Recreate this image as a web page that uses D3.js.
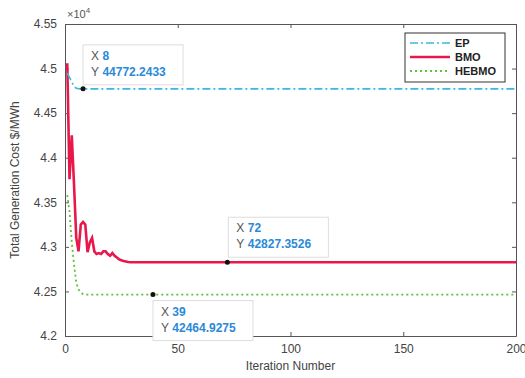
<!DOCTYPE html>
<html>
<head>
<meta charset="utf-8">
<script src="https://cdn.jsdelivr.net/npm/d3@7"></script>
<style>
  html, body { margin: 0; padding: 0; background: #fff; }
  svg { display: block; font-family: 'Liberation Sans', Arial, sans-serif; }
</style>
</head>
<body>
<div id="chart"></div>
<script>
// iteration data (only the transient part is listed, the rest stays at the final value)
const epHead = [44950, 44900, 44850, 44800, 44780, 44775, 44772.2433];
const bmoHead = [45060, 43760, 44250, 43700, 43100, 42950, 43250, 43280, 43250, 42940,
  43050, 43100, 42950, 42920, 42930, 42920, 42950, 42950, 42920, 42900,
  42930, 42900, 42880, 42860, 42850, 42840, 42835, 42830, 42828, 42827.3526];
const hebmoHead = [43580, 43400, 43050, 42800, 42600, 42520, 42490, 42470, 42464.9275];
const nIter = 200;

const seriesNames = ['EP', 'BMO', 'HEBMO'];
const seriesColors = ['#35bcd6', '#e8184c', '#5cc23c'];

const xTicks = [0, 50, 100, 150, 200];
const yTicks = [42000, 42500, 43000, 43500, 44000, 44500, 45000, 45500];

// data tips
const tips = [
  { x: 8, y: 44772.2433, label: ['X', '8', 'Y', '44772.2433'] },
  { x: 72, y: 42827.3526, label: ['X', '72', 'Y', '42827.3526'] },
  { x: 39, y: 42464.9275, label: ['X', '39', 'Y', '42464.9275'] }
];

function fill(head) {
  const out = [];
  for (let i = 1; i <= nIter; i++) {
    out.push({ x: i, y: i <= head.length ? head[i - 1] : head[head.length - 1] });
  }
  return out;
}
const series = [fill(epHead), fill(bmoHead), fill(hebmoHead)];

const width = 525, height = 378;
const margin = { left: 65, right: 9, top: 24, bottom: 42 };

const svg = d3.select('#chart').append('svg')
  .attr('width', width).attr('height', height);

const x = d3.scaleLinear().domain([0, 200]).range([margin.left, width - margin.right]);
const y = d3.scaleLinear().domain([42000, 45500]).range([height - margin.bottom, margin.top]);

const axisColor = '#555';

// axes (MATLAB style box with inward ticks)
const gx = svg.append('g').attr('transform', `translate(0,${y(42000)})`)
  .call(d3.axisBottom(x).tickValues(xTicks).tickSizeInner(-4).tickSizeOuter(0).tickPadding(8));
const gxTop = svg.append('g').attr('transform', `translate(0,${y(45500)})`)
  .call(d3.axisTop(x).tickValues(xTicks).tickSizeInner(-4).tickSizeOuter(0).tickFormat(''));
const gy = svg.append('g').attr('transform', `translate(${x(0)},0)`)
  .call(d3.axisLeft(y).tickValues(yTicks).tickSizeInner(-4).tickSizeOuter(0).tickPadding(8)
    .tickFormat(d => String(+(d / 1e4).toFixed(2))));
const gyRight = svg.append('g').attr('transform', `translate(${x(200)},0)`)
  .call(d3.axisRight(y).tickValues(yTicks).tickSizeInner(-4).tickSizeOuter(0).tickFormat(''));

[gx, gxTop, gy, gyRight].forEach(g => {
  g.selectAll('.domain').attr('stroke', axisColor).attr('stroke-width', 1);
  g.selectAll('.tick line').attr('stroke', axisColor);
  g.selectAll('text').attr('fill', '#444').attr('font-size', 12)
    .attr('font-family', "'Liberation Sans', Arial, sans-serif");
});

// exponent label
const expo = svg.append('text').attr('x', x(0) + 2).attr('y', y(45500) - 6)
  .attr('fill', '#555').attr('font-size', 11);
expo.append('tspan').text('\u00d710');
expo.append('tspan').text('4').attr('dy', -5).attr('font-size', 8);

// axis labels
svg.append('text')
  .attr('transform', `translate(19,${(y(42000) + y(45500)) / 2}) rotate(-90)`)
  .attr('text-anchor', 'middle').attr('fill', '#444').attr('font-size', 12)
  .text('Total Generation Cost $/MWh');
svg.append('text')
  .attr('x', (x(0) + x(200)) / 2).attr('y', 370)
  .attr('text-anchor', 'middle').attr('fill', '#444').attr('font-size', 12)
  .text('Iteration Number');

// lines
const line = d3.line().x(d => x(d.x)).y(d => y(d.y));
const dashes = ['8,3,2,3', null, '2,3'];
const widths = [1.6, 2.6, 1.8];
const plot = svg.append('g');
[1, 0, 2].forEach(i => {
  plot.append('path').datum(series[i])
    .attr('fill', 'none')
    .attr('stroke', seriesColors[i])
    .attr('stroke-width', widths[i])
    .attr('stroke-dasharray', dashes[i])
    .attr('stroke-linejoin', 'miter')
    .attr('d', line);
});

// legend
const leg = svg.append('g').attr('transform', 'translate(405,33)');
leg.append('rect').attr('width', 100).attr('height', 49)
  .attr('fill', '#fff').attr('stroke', '#333').attr('stroke-width', 1);
seriesNames.forEach((name, i) => {
  const ly = 10 + i * 14;
  leg.append('line').attr('x1', 5).attr('x2', 45).attr('y1', ly).attr('y2', ly)
    .attr('stroke', seriesColors[i]).attr('stroke-width', widths[i])
    .attr('stroke-dasharray', dashes[i]);
  leg.append('text').attr('x', 50).attr('y', ly + 4)
    .attr('font-size', 11).attr('font-weight', 'bold').attr('fill', '#222').text(name);
});

// data tips
const tipOffsets = [
  { dx: 0, dy: -44 },
  { dx: 1, dy: -45 },
  { dx: 0, dy: 6 }
];
tips.forEach((t, i) => {
  const px = x(t.x), py = y(t.y);
  const o = tipOffsets[i];
  const g = svg.append('g').attr('transform', `translate(${px + o.dx},${py + o.dy})`);
  g.append('rect').attr('width', 100).attr('height', 40)
    .attr('fill', '#fff').attr('stroke', '#ddd').attr('stroke-width', 1);
  [0, 1].forEach(r => {
    const tx = g.append('text').attr('x', 8).attr('y', 15 + r * 16).attr('font-size', 12);
    tx.append('tspan').text(t.label[r * 2]).attr('fill', '#555');
    tx.append('tspan').text(' ' + t.label[r * 2 + 1]).attr('fill', '#2a8ad8').attr('font-weight', 'bold');
  });
  svg.append('circle').attr('cx', px).attr('cy', py).attr('r', 2.5).attr('fill', '#111');
});
</script>
</body>
</html>
